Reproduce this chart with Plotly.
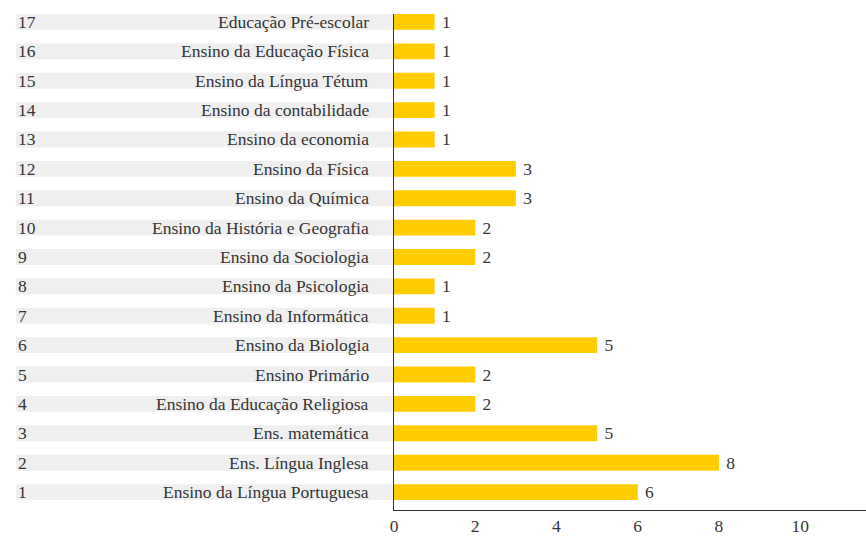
import plotly.graph_objects as go

ranks = list(range(1, 18))
categories = [
    "Ensino da Língua Portuguesa",
    "Ens. Língua Inglesa",
    "Ens. matemática",
    "Ensino da Educação Religiosa",
    "Ensino Primário",
    "Ensino da Biologia",
    "Ensino da Informática",
    "Ensino da Psicologia",
    "Ensino da Sociologia",
    "Ensino da História e Geografia",
    "Ensino da Química",
    "Ensino da Física",
    "Ensino da economia",
    "Ensino da contabilidade",
    "Ensino da Língua Tétum",
    "Ensino da Educação Física",
    "Educação Pré-escolar",
]
values = [6, 8, 5, 2, 2, 5, 1, 1, 2, 2, 3, 3, 1, 1, 1, 1, 1]
x_ticks = [0, 2, 4, 6, 8, 10]

FONT = "'Liberation Serif', 'Times New Roman', serif"
TXT = "#363636"
BAR_W = 0.54
FS = 17.5

fig = go.Figure()
fig.add_trace(go.Bar(
    x=values, y=ranks, orientation="h",
    width=BAR_W,
    marker=dict(color="#FFCC00", line=dict(width=0)),
    texttemplate=" %{x}", textposition="outside",
    constraintext="none",
    textfont=dict(family=FONT, size=FS, color=TXT),
    cliponaxis=False, hoverinfo="skip",
))

shapes = []
annotations = []
for r, c in zip(ranks, categories):
    shapes.append(dict(type="rect", xref="paper", yref="y",
                       x0=-0.8008, x1=0, y0=r - BAR_W / 2, y1=r + BAR_W / 2,
                       fillcolor="#EFEFEF", line=dict(width=0), layer="below"))
    annotations.append(dict(xref="paper", yref="y", x=-0.0487, y=r, text=c,
                            showarrow=False, xanchor="right", yanchor="middle",
                            font=dict(family=FONT, size=FS, color=TXT)))
    annotations.append(dict(xref="paper", yref="y", x=-0.8008, y=r, text=str(r),
                            showarrow=False, xanchor="left", yanchor="middle",
                            font=dict(family=FONT, size=FS, color=TXT)))

fig.update_layout(
    width=866, height=540,
    margin=dict(l=394, r=0, t=14, b=30),
    paper_bgcolor="white", plot_bgcolor="white",
    showlegend=False,
    font=dict(family=FONT, color=TXT),
    shapes=shapes, annotations=annotations,
    xaxis=dict(range=[0, 11.62], tickvals=x_ticks, showgrid=False, zeroline=False,
               showline=True, linecolor="#333", linewidth=1, ticks="",
               tickfont=dict(family=FONT, size=FS, color=TXT)),
    yaxis=dict(range=[0.39, 17.27], showticklabels=False, showgrid=False,
               zeroline=False, showline=True, linecolor="#333", linewidth=1, ticks=""),
)

fig.write_html("out.html", config={"displayModeBar": False},
               post_script="document.body.style.margin='0';")
